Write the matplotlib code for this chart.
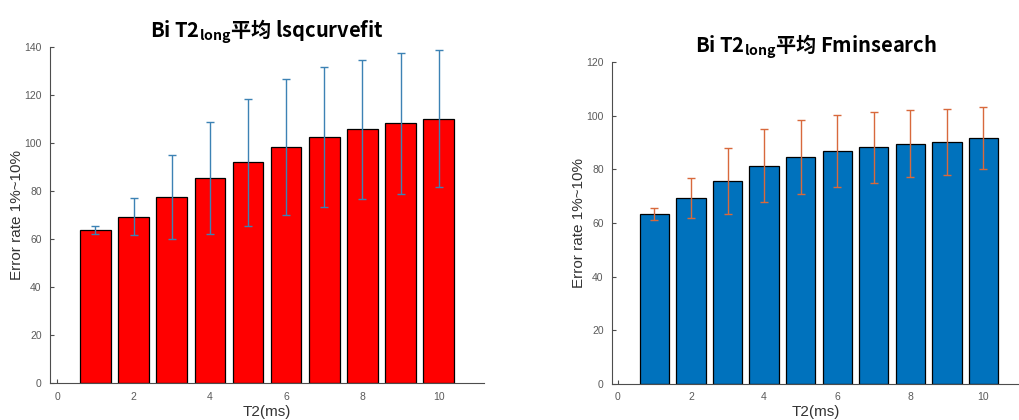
import matplotlib
matplotlib.use("Agg")
import matplotlib.pyplot as plt
import numpy as np

plt.rcParams["font.family"] = ["Liberation Sans", "Noto Sans CJK SC", "DejaVu Sans"]
plt.rcParams["mathtext.fontset"] = "custom"

# T2 values (ms) on the x axis
t2_ms = np.arange(1, 11)

# lsqcurvefit: mean error rate and standard deviation per T2
lsq_mean = [63.8, 69.3, 77.6, 85.6, 92.0, 98.3, 102.6, 105.7, 108.2, 110.2]
lsq_std = [1.8, 7.7, 17.5, 23.4, 26.4, 28.3, 29.2, 29.1, 29.2, 28.4]

# fminsearch: mean error rate and standard deviation per T2
fmin_mean = [63.5, 69.4, 75.8, 81.3, 84.5, 86.8, 88.2, 89.6, 90.2, 91.6]
fmin_std = [2.2, 7.5, 12.3, 13.6, 13.8, 13.4, 13.2, 12.4, 12.3, 11.5]

titles = [r"Bi T2$_{\mathregular{long}}$平均 lsqcurvefit",
          r"Bi T2$_{\mathregular{long}}$平均 Fminsearch"]
x_label = "T2(ms)"
y_label = "Error rate 1%~10%"

AXIS_GRAY = "#4d4d4d"
TICK_GRAY = "#5a5a5a"


def draw_panel(ax, means, stds, bar_color, err_color, ymax, title):
    ax.bar(t2_ms, means, width=0.8, color=bar_color, edgecolor="black",
           linewidth=0.9, zorder=2)
    ax.errorbar(t2_ms, means, yerr=stds, fmt="none", ecolor=err_color,
                elinewidth=1.0, capsize=3, capthick=1.0, zorder=3)
    ax.set_ylim(0, ymax)
    ax.set_xticks([0, 2, 4, 6, 8, 10])
    ax.set_yticks(np.arange(0, ymax + 1, 20))
    for side in ("top", "right"):
        ax.spines[side].set_visible(False)
    for side in ("left", "bottom"):
        ax.spines[side].set_color(AXIS_GRAY)
        ax.spines[side].set_linewidth(0.8)
    ax.tick_params(direction="in", length=3, width=0.8, colors=AXIS_GRAY,
                   labelcolor=TICK_GRAY, labelsize=7.5, pad=6)
    ax.set_xlabel(x_label, fontsize=11, color="#333333", labelpad=2)
    ax.set_ylabel(y_label, fontsize=11, color="#333333", labelpad=0)
    ax.set_title(title, fontsize=14.5, fontweight="bold", family="Noto Sans CJK SC",
                 pad=7)


fig = plt.figure(figsize=(10.2, 4.2), dpi=100)

ax1 = fig.add_axes([0.049, 0.087, 0.426, 0.801])
draw_panel(ax1, lsq_mean, lsq_std, "#ff0000", "#3c82b4", 140, titles[0])
ax1.set_xlim(-0.19, 11.2)

ax2 = fig.add_axes([0.600, 0.086, 0.400, 0.766])
draw_panel(ax2, fmin_mean, fmin_std, "#0072bd", "#d8693c", 120, titles[1])
ax2.set_xlim(-0.16, 11.0)

fig.savefig("out.png", dpi=100)
